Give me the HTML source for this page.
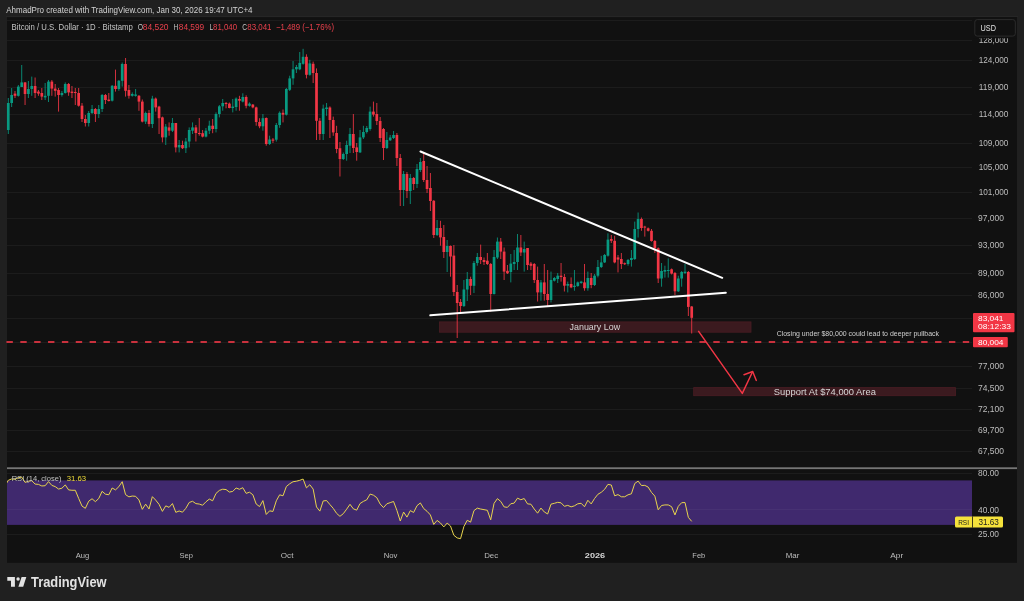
<!DOCTYPE html>
<html><head><meta charset="utf-8"><style>
html,body{margin:0;padding:0;background:#202020;width:1024px;height:601px;overflow:hidden}
svg{position:absolute;left:0;top:0;font-family:"Liberation Sans", sans-serif;will-change:transform}
</style></head><body>
<svg width="1024" height="601" viewBox="0 0 1024 601">
<rect x="6" y="15.8" width="1012" height="1.4" fill="#262626"/>
<rect x="7" y="17.2" width="1010" height="545.6" fill="#111111"/>
<line x1="7" x2="972" y1="20.5" y2="20.5" stroke="#1c1c1c" stroke-width="1"/>
<line x1="7" x2="972" y1="40.5" y2="40.5" stroke="#1c1c1c" stroke-width="1"/>
<line x1="7" x2="972" y1="60.5" y2="60.5" stroke="#1c1c1c" stroke-width="1"/>
<line x1="7" x2="972" y1="87.5" y2="87.5" stroke="#1c1c1c" stroke-width="1"/>
<line x1="7" x2="972" y1="114.5" y2="114.5" stroke="#1c1c1c" stroke-width="1"/>
<line x1="7" x2="972" y1="143.5" y2="143.5" stroke="#1c1c1c" stroke-width="1"/>
<line x1="7" x2="972" y1="167.5" y2="167.5" stroke="#1c1c1c" stroke-width="1"/>
<line x1="7" x2="972" y1="192.5" y2="192.5" stroke="#1c1c1c" stroke-width="1"/>
<line x1="7" x2="972" y1="218.5" y2="218.5" stroke="#1c1c1c" stroke-width="1"/>
<line x1="7" x2="972" y1="245.5" y2="245.5" stroke="#1c1c1c" stroke-width="1"/>
<line x1="7" x2="972" y1="273.5" y2="273.5" stroke="#1c1c1c" stroke-width="1"/>
<line x1="7" x2="972" y1="295.5" y2="295.5" stroke="#1c1c1c" stroke-width="1"/>
<line x1="7" x2="972" y1="318.5" y2="318.5" stroke="#1c1c1c" stroke-width="1"/>
<line x1="7" x2="972" y1="342.5" y2="342.5" stroke="#1c1c1c" stroke-width="1"/>
<line x1="7" x2="972" y1="366.5" y2="366.5" stroke="#1c1c1c" stroke-width="1"/>
<line x1="7" x2="972" y1="388.5" y2="388.5" stroke="#1c1c1c" stroke-width="1"/>
<line x1="7" x2="972" y1="409.5" y2="409.5" stroke="#1c1c1c" stroke-width="1"/>
<line x1="7" x2="972" y1="430.5" y2="430.5" stroke="#1c1c1c" stroke-width="1"/>
<line x1="7" x2="972" y1="451.5" y2="451.5" stroke="#1c1c1c" stroke-width="1"/>
<line x1="7" x2="972" y1="473.5" y2="473.5" stroke="#1c1c1c" stroke-width="1"/>
<line x1="7" x2="972" y1="510.5" y2="510.5" stroke="#1c1c1c" stroke-width="1"/>
<line x1="7" x2="972" y1="534.5" y2="534.5" stroke="#1c1c1c" stroke-width="1"/>
<rect x="7" y="480.4" width="965" height="44.5" fill="#40296e"/>
<line x1="7" x2="972" y1="509.5" y2="509.5" stroke="#ffffff" stroke-opacity="0.04" stroke-width="1"/>
<rect x="439.4" y="321.9" width="311.6" height="10.3" fill="#3b1a1f" stroke="#4a1d24" stroke-width="0.8"/>
<rect x="693.7" y="387.6" width="261.8" height="8.1" fill="#3b1a1f" stroke="#4a1d24" stroke-width="0.8"/>
<rect x="7.80" y="98.0" width="1" height="36.0" fill="#089981" opacity="0.85"/>
<rect x="6.95" y="103.0" width="2.7" height="27.0" fill="#089981"/>
<rect x="11.15" y="88.0" width="1" height="19.0" fill="#089981" opacity="0.85"/>
<rect x="10.30" y="95.0" width="2.7" height="8.0" fill="#089981"/>
<rect x="14.50" y="91.0" width="1" height="7.0" fill="#f23645" opacity="0.85"/>
<rect x="13.65" y="93.6" width="2.7" height="2.2" fill="#f23645"/>
<rect x="17.85" y="85.0" width="1" height="11.6" fill="#089981" opacity="0.85"/>
<rect x="17.00" y="86.6" width="2.7" height="9.2" fill="#089981"/>
<rect x="21.20" y="65.0" width="1" height="22.0" fill="#089981" opacity="0.85"/>
<rect x="20.35" y="82.4" width="2.7" height="4.6" fill="#089981"/>
<rect x="24.55" y="82.0" width="1" height="23.0" fill="#f23645" opacity="0.85"/>
<rect x="23.70" y="82.4" width="2.7" height="11.6" fill="#f23645"/>
<rect x="27.90" y="81.0" width="1" height="17.0" fill="#089981" opacity="0.85"/>
<rect x="27.05" y="89.0" width="2.7" height="5.0" fill="#089981"/>
<rect x="31.25" y="76.6" width="1" height="19.2" fill="#089981" opacity="0.85"/>
<rect x="30.40" y="86.0" width="2.7" height="3.0" fill="#089981"/>
<rect x="34.60" y="77.5" width="1" height="20.5" fill="#f23645" opacity="0.85"/>
<rect x="33.75" y="86.0" width="2.7" height="7.0" fill="#f23645"/>
<rect x="37.95" y="90.0" width="1" height="5.8" fill="#f23645" opacity="0.85"/>
<rect x="37.10" y="91.6" width="2.7" height="2.0" fill="#f23645"/>
<rect x="41.30" y="88.0" width="1" height="12.0" fill="#f23645" opacity="0.85"/>
<rect x="40.45" y="93.0" width="2.7" height="3.6" fill="#f23645"/>
<rect x="44.65" y="83.0" width="1" height="17.0" fill="#089981" opacity="0.85"/>
<rect x="43.80" y="95.8" width="2.7" height="1.6" fill="#089981"/>
<rect x="48.00" y="80.0" width="1" height="22.0" fill="#089981" opacity="0.85"/>
<rect x="47.15" y="81.6" width="2.7" height="14.2" fill="#089981"/>
<rect x="51.35" y="80.0" width="1" height="15.8" fill="#f23645" opacity="0.85"/>
<rect x="50.50" y="81.6" width="2.7" height="7.0" fill="#f23645"/>
<rect x="54.70" y="84.0" width="1" height="12.6" fill="#f23645" opacity="0.85"/>
<rect x="53.85" y="88.6" width="2.7" height="2.2" fill="#f23645"/>
<rect x="58.05" y="88.0" width="1" height="23.6" fill="#f23645" opacity="0.85"/>
<rect x="57.20" y="90.0" width="2.7" height="5.0" fill="#f23645"/>
<rect x="61.40" y="91.0" width="1" height="5.6" fill="#089981" opacity="0.85"/>
<rect x="60.55" y="93.0" width="2.7" height="2.0" fill="#089981"/>
<rect x="64.75" y="82.4" width="1" height="11.2" fill="#089981" opacity="0.85"/>
<rect x="63.90" y="84.0" width="2.7" height="9.0" fill="#089981"/>
<rect x="68.10" y="83.0" width="1" height="12.8" fill="#f23645" opacity="0.85"/>
<rect x="67.25" y="84.0" width="2.7" height="8.4" fill="#f23645"/>
<rect x="71.45" y="86.0" width="1" height="12.0" fill="#f23645" opacity="0.85"/>
<rect x="70.60" y="91.6" width="2.7" height="1.4" fill="#f23645"/>
<rect x="74.80" y="88.0" width="1" height="17.0" fill="#f23645" opacity="0.85"/>
<rect x="73.95" y="92.0" width="2.7" height="1.0" fill="#f23645"/>
<rect x="78.15" y="88.0" width="1" height="18.6" fill="#f23645" opacity="0.85"/>
<rect x="77.30" y="93.0" width="2.7" height="12.7" fill="#f23645"/>
<rect x="81.50" y="103.0" width="1" height="19.0" fill="#f23645" opacity="0.85"/>
<rect x="80.65" y="105.7" width="2.7" height="13.3" fill="#f23645"/>
<rect x="84.85" y="115.0" width="1" height="11.5" fill="#f23645" opacity="0.85"/>
<rect x="84.00" y="119.0" width="2.7" height="4.0" fill="#f23645"/>
<rect x="88.20" y="111.0" width="1" height="15.5" fill="#089981" opacity="0.85"/>
<rect x="87.35" y="113.0" width="2.7" height="10.0" fill="#089981"/>
<rect x="91.55" y="105.0" width="1" height="9.0" fill="#089981" opacity="0.85"/>
<rect x="90.70" y="109.0" width="2.7" height="4.0" fill="#089981"/>
<rect x="94.90" y="108.0" width="1" height="14.0" fill="#f23645" opacity="0.85"/>
<rect x="94.05" y="109.0" width="2.7" height="5.0" fill="#f23645"/>
<rect x="98.25" y="105.0" width="1" height="13.0" fill="#089981" opacity="0.85"/>
<rect x="97.40" y="109.0" width="2.7" height="5.0" fill="#089981"/>
<rect x="101.60" y="94.0" width="1" height="18.0" fill="#089981" opacity="0.85"/>
<rect x="100.75" y="95.0" width="2.7" height="14.0" fill="#089981"/>
<rect x="104.95" y="94.0" width="1" height="10.0" fill="#f23645" opacity="0.85"/>
<rect x="104.10" y="95.0" width="2.7" height="5.0" fill="#f23645"/>
<rect x="108.30" y="93.0" width="1" height="8.5" fill="#f23645" opacity="0.85"/>
<rect x="107.45" y="99.6" width="2.7" height="1.4" fill="#f23645"/>
<rect x="111.65" y="85.0" width="1" height="16.5" fill="#089981" opacity="0.85"/>
<rect x="110.80" y="85.8" width="2.7" height="14.9" fill="#089981"/>
<rect x="115.00" y="69.6" width="1" height="22.0" fill="#f23645" opacity="0.85"/>
<rect x="114.15" y="85.8" width="2.7" height="3.2" fill="#f23645"/>
<rect x="118.35" y="80.0" width="1" height="10.8" fill="#089981" opacity="0.85"/>
<rect x="117.50" y="80.8" width="2.7" height="8.2" fill="#089981"/>
<rect x="121.70" y="62.5" width="1" height="24.1" fill="#089981" opacity="0.85"/>
<rect x="120.85" y="64.0" width="2.7" height="16.8" fill="#089981"/>
<rect x="125.05" y="58.0" width="1" height="38.6" fill="#f23645" opacity="0.85"/>
<rect x="124.20" y="64.0" width="2.7" height="26.8" fill="#f23645"/>
<rect x="128.40" y="85.0" width="1" height="13.6" fill="#f23645" opacity="0.85"/>
<rect x="127.55" y="90.0" width="2.7" height="5.8" fill="#f23645"/>
<rect x="131.75" y="92.4" width="1" height="4.2" fill="#089981" opacity="0.85"/>
<rect x="130.90" y="94.0" width="2.7" height="1.8" fill="#089981"/>
<rect x="135.10" y="89.0" width="1" height="7.6" fill="#089981" opacity="0.85"/>
<rect x="134.25" y="94.5" width="2.7" height="1.3" fill="#089981"/>
<rect x="138.45" y="95.0" width="1" height="15.8" fill="#f23645" opacity="0.85"/>
<rect x="137.60" y="95.8" width="2.7" height="5.8" fill="#f23645"/>
<rect x="141.80" y="99.5" width="1" height="22.9" fill="#f23645" opacity="0.85"/>
<rect x="140.95" y="101.6" width="2.7" height="20.0" fill="#f23645"/>
<rect x="145.15" y="111.6" width="1" height="12.4" fill="#089981" opacity="0.85"/>
<rect x="144.30" y="113.0" width="2.7" height="8.6" fill="#089981"/>
<rect x="148.50" y="110.0" width="1" height="16.6" fill="#f23645" opacity="0.85"/>
<rect x="147.65" y="113.0" width="2.7" height="11.0" fill="#f23645"/>
<rect x="151.85" y="95.8" width="1" height="32.2" fill="#089981" opacity="0.85"/>
<rect x="151.00" y="98.6" width="2.7" height="25.4" fill="#089981"/>
<rect x="155.20" y="97.5" width="1" height="14.1" fill="#f23645" opacity="0.85"/>
<rect x="154.35" y="98.6" width="2.7" height="8.8" fill="#f23645"/>
<rect x="158.55" y="105.8" width="1" height="28.2" fill="#f23645" opacity="0.85"/>
<rect x="157.70" y="106.6" width="2.7" height="11.6" fill="#f23645"/>
<rect x="161.90" y="116.6" width="1" height="25.8" fill="#f23645" opacity="0.85"/>
<rect x="161.05" y="117.4" width="2.7" height="20.0" fill="#f23645"/>
<rect x="165.25" y="124.0" width="1" height="21.0" fill="#089981" opacity="0.85"/>
<rect x="164.40" y="126.6" width="2.7" height="10.8" fill="#089981"/>
<rect x="168.60" y="122.4" width="1" height="13.3" fill="#f23645" opacity="0.85"/>
<rect x="167.75" y="127.4" width="2.7" height="3.3" fill="#f23645"/>
<rect x="171.95" y="118.0" width="1" height="14.0" fill="#089981" opacity="0.85"/>
<rect x="171.10" y="123.0" width="2.7" height="7.7" fill="#089981"/>
<rect x="175.30" y="123.0" width="1" height="29.4" fill="#f23645" opacity="0.85"/>
<rect x="174.45" y="123.0" width="2.7" height="24.4" fill="#f23645"/>
<rect x="178.65" y="140.0" width="1" height="12.4" fill="#089981" opacity="0.85"/>
<rect x="177.80" y="145.0" width="2.7" height="2.4" fill="#089981"/>
<rect x="182.00" y="140.7" width="1" height="8.3" fill="#f23645" opacity="0.85"/>
<rect x="181.15" y="145.0" width="2.7" height="3.2" fill="#f23645"/>
<rect x="185.35" y="138.0" width="1" height="15.0" fill="#089981" opacity="0.85"/>
<rect x="184.50" y="141.5" width="2.7" height="6.7" fill="#089981"/>
<rect x="188.70" y="127.4" width="1" height="20.0" fill="#089981" opacity="0.85"/>
<rect x="187.85" y="130.0" width="2.7" height="11.5" fill="#089981"/>
<rect x="192.05" y="122.4" width="1" height="11.6" fill="#089981" opacity="0.85"/>
<rect x="191.20" y="127.4" width="2.7" height="3.3" fill="#089981"/>
<rect x="195.40" y="125.0" width="1" height="16.5" fill="#f23645" opacity="0.85"/>
<rect x="194.55" y="127.4" width="2.7" height="5.6" fill="#f23645"/>
<rect x="198.75" y="118.0" width="1" height="17.7" fill="#f23645" opacity="0.85"/>
<rect x="197.90" y="133.0" width="2.7" height="1.0" fill="#f23645"/>
<rect x="202.10" y="130.0" width="1" height="7.4" fill="#f23645" opacity="0.85"/>
<rect x="201.25" y="133.2" width="2.7" height="3.4" fill="#f23645"/>
<rect x="205.45" y="128.0" width="1" height="9.4" fill="#089981" opacity="0.85"/>
<rect x="204.60" y="130.7" width="2.7" height="5.9" fill="#089981"/>
<rect x="208.80" y="120.7" width="1" height="13.3" fill="#089981" opacity="0.85"/>
<rect x="207.95" y="125.7" width="2.7" height="5.0" fill="#089981"/>
<rect x="212.15" y="119.0" width="1" height="14.2" fill="#f23645" opacity="0.85"/>
<rect x="211.30" y="125.7" width="2.7" height="3.3" fill="#f23645"/>
<rect x="215.50" y="112.4" width="1" height="20.0" fill="#089981" opacity="0.85"/>
<rect x="214.65" y="114.0" width="2.7" height="15.0" fill="#089981"/>
<rect x="218.85" y="105.0" width="1" height="12.4" fill="#089981" opacity="0.85"/>
<rect x="218.00" y="106.3" width="2.7" height="7.7" fill="#089981"/>
<rect x="222.20" y="99.0" width="1" height="11.7" fill="#089981" opacity="0.85"/>
<rect x="221.35" y="103.0" width="2.7" height="3.3" fill="#089981"/>
<rect x="225.55" y="102.0" width="1" height="6.3" fill="#f23645" opacity="0.85"/>
<rect x="224.70" y="103.0" width="2.7" height="1.0" fill="#f23645"/>
<rect x="228.90" y="102.5" width="1" height="5.8" fill="#f23645" opacity="0.85"/>
<rect x="228.05" y="103.6" width="2.7" height="4.4" fill="#f23645"/>
<rect x="232.25" y="99.0" width="1" height="13.4" fill="#089981" opacity="0.85"/>
<rect x="231.40" y="106.6" width="2.7" height="1.4" fill="#089981"/>
<rect x="235.60" y="97.4" width="1" height="13.3" fill="#089981" opacity="0.85"/>
<rect x="234.75" y="98.6" width="2.7" height="8.4" fill="#089981"/>
<rect x="238.95" y="95.8" width="1" height="14.9" fill="#f23645" opacity="0.85"/>
<rect x="238.10" y="99.0" width="2.7" height="1.7" fill="#f23645"/>
<rect x="242.30" y="93.3" width="1" height="9.1" fill="#089981" opacity="0.85"/>
<rect x="241.45" y="97.0" width="2.7" height="4.6" fill="#089981"/>
<rect x="245.65" y="95.3" width="1" height="13.0" fill="#f23645" opacity="0.85"/>
<rect x="244.80" y="97.0" width="2.7" height="8.8" fill="#f23645"/>
<rect x="249.00" y="102.4" width="1" height="4.2" fill="#089981" opacity="0.85"/>
<rect x="248.15" y="103.6" width="2.7" height="2.2" fill="#089981"/>
<rect x="252.35" y="104.0" width="1" height="4.3" fill="#f23645" opacity="0.85"/>
<rect x="251.50" y="104.6" width="2.7" height="2.8" fill="#f23645"/>
<rect x="255.70" y="106.6" width="1" height="19.1" fill="#f23645" opacity="0.85"/>
<rect x="254.85" y="107.4" width="2.7" height="14.6" fill="#f23645"/>
<rect x="259.05" y="118.2" width="1" height="10.0" fill="#f23645" opacity="0.85"/>
<rect x="258.20" y="122.0" width="2.7" height="4.3" fill="#f23645"/>
<rect x="262.40" y="114.0" width="1" height="16.7" fill="#089981" opacity="0.85"/>
<rect x="261.55" y="118.2" width="2.7" height="8.1" fill="#089981"/>
<rect x="265.75" y="117.4" width="1" height="28.3" fill="#f23645" opacity="0.85"/>
<rect x="264.90" y="118.0" width="2.7" height="26.0" fill="#f23645"/>
<rect x="269.10" y="135.7" width="1" height="9.3" fill="#089981" opacity="0.85"/>
<rect x="268.25" y="139.5" width="2.7" height="4.5" fill="#089981"/>
<rect x="272.45" y="138.0" width="1" height="5.0" fill="#f23645" opacity="0.85"/>
<rect x="271.60" y="139.5" width="2.7" height="1.2" fill="#f23645"/>
<rect x="275.80" y="123.0" width="1" height="18.6" fill="#089981" opacity="0.85"/>
<rect x="274.95" y="125.0" width="2.7" height="14.7" fill="#089981"/>
<rect x="279.15" y="111.4" width="1" height="16.4" fill="#089981" opacity="0.85"/>
<rect x="278.30" y="112.8" width="2.7" height="12.2" fill="#089981"/>
<rect x="282.50" y="109.5" width="1" height="12.9" fill="#f23645" opacity="0.85"/>
<rect x="281.65" y="112.8" width="2.7" height="1.9" fill="#f23645"/>
<rect x="285.85" y="88.0" width="1" height="27.5" fill="#089981" opacity="0.85"/>
<rect x="285.00" y="89.0" width="2.7" height="25.7" fill="#089981"/>
<rect x="289.20" y="75.7" width="1" height="15.3" fill="#089981" opacity="0.85"/>
<rect x="288.35" y="78.4" width="2.7" height="11.4" fill="#089981"/>
<rect x="292.55" y="61.0" width="1" height="23.8" fill="#089981" opacity="0.85"/>
<rect x="291.70" y="69.3" width="2.7" height="9.1" fill="#089981"/>
<rect x="295.90" y="65.0" width="1" height="8.0" fill="#089981" opacity="0.85"/>
<rect x="295.05" y="67.0" width="2.7" height="2.3" fill="#089981"/>
<rect x="299.25" y="52.0" width="1" height="18.2" fill="#089981" opacity="0.85"/>
<rect x="298.40" y="62.9" width="2.7" height="6.4" fill="#089981"/>
<rect x="302.60" y="48.8" width="1" height="15.9" fill="#089981" opacity="0.85"/>
<rect x="301.75" y="56.8" width="2.7" height="7.0" fill="#089981"/>
<rect x="305.95" y="54.3" width="1" height="24.1" fill="#f23645" opacity="0.85"/>
<rect x="305.10" y="56.8" width="2.7" height="18.0" fill="#f23645"/>
<rect x="309.30" y="59.8" width="1" height="15.9" fill="#089981" opacity="0.85"/>
<rect x="308.45" y="63.4" width="2.7" height="11.4" fill="#089981"/>
<rect x="312.65" y="61.6" width="1" height="21.4" fill="#f23645" opacity="0.85"/>
<rect x="311.80" y="63.8" width="2.7" height="9.2" fill="#f23645"/>
<rect x="316.00" y="68.4" width="1" height="71.6" fill="#f23645" opacity="0.85"/>
<rect x="315.15" y="73.0" width="2.7" height="47.8" fill="#f23645"/>
<rect x="319.35" y="118.0" width="1" height="22.0" fill="#f23645" opacity="0.85"/>
<rect x="318.50" y="120.8" width="2.7" height="13.2" fill="#f23645"/>
<rect x="322.70" y="104.6" width="1" height="35.4" fill="#089981" opacity="0.85"/>
<rect x="321.85" y="108.6" width="2.7" height="25.4" fill="#089981"/>
<rect x="326.05" y="103.0" width="1" height="12.8" fill="#089981" opacity="0.85"/>
<rect x="325.20" y="107.5" width="2.7" height="1.5" fill="#089981"/>
<rect x="329.40" y="106.3" width="1" height="31.7" fill="#f23645" opacity="0.85"/>
<rect x="328.55" y="107.5" width="2.7" height="12.5" fill="#f23645"/>
<rect x="332.75" y="116.6" width="1" height="19.2" fill="#f23645" opacity="0.85"/>
<rect x="331.90" y="120.0" width="2.7" height="12.4" fill="#f23645"/>
<rect x="336.10" y="125.8" width="1" height="27.4" fill="#f23645" opacity="0.85"/>
<rect x="335.25" y="133.0" width="2.7" height="16.0" fill="#f23645"/>
<rect x="339.45" y="142.0" width="1" height="34.5" fill="#f23645" opacity="0.85"/>
<rect x="338.60" y="148.2" width="2.7" height="10.8" fill="#f23645"/>
<rect x="342.80" y="152.5" width="1" height="7.5" fill="#089981" opacity="0.85"/>
<rect x="341.95" y="154.0" width="2.7" height="5.0" fill="#089981"/>
<rect x="346.15" y="140.7" width="1" height="20.0" fill="#089981" opacity="0.85"/>
<rect x="345.30" y="145.0" width="2.7" height="9.0" fill="#089981"/>
<rect x="349.50" y="128.0" width="1" height="25.0" fill="#089981" opacity="0.85"/>
<rect x="348.65" y="134.0" width="2.7" height="11.7" fill="#089981"/>
<rect x="352.85" y="114.0" width="1" height="39.0" fill="#f23645" opacity="0.85"/>
<rect x="352.00" y="134.0" width="2.7" height="14.0" fill="#f23645"/>
<rect x="356.20" y="143.0" width="1" height="17.7" fill="#f23645" opacity="0.85"/>
<rect x="355.35" y="147.4" width="2.7" height="4.6" fill="#f23645"/>
<rect x="359.55" y="130.0" width="1" height="23.0" fill="#089981" opacity="0.85"/>
<rect x="358.70" y="137.4" width="2.7" height="15.0" fill="#089981"/>
<rect x="362.90" y="125.8" width="1" height="13.2" fill="#089981" opacity="0.85"/>
<rect x="362.05" y="132.0" width="2.7" height="5.4" fill="#089981"/>
<rect x="366.25" y="126.0" width="1" height="7.5" fill="#089981" opacity="0.85"/>
<rect x="365.40" y="128.0" width="2.7" height="4.0" fill="#089981"/>
<rect x="369.60" y="106.6" width="1" height="24.1" fill="#089981" opacity="0.85"/>
<rect x="368.75" y="111.6" width="2.7" height="17.4" fill="#089981"/>
<rect x="372.95" y="101.6" width="1" height="15.0" fill="#f23645" opacity="0.85"/>
<rect x="372.10" y="111.6" width="2.7" height="3.0" fill="#f23645"/>
<rect x="376.30" y="103.0" width="1" height="22.0" fill="#f23645" opacity="0.85"/>
<rect x="375.45" y="114.0" width="2.7" height="7.0" fill="#f23645"/>
<rect x="379.65" y="117.0" width="1" height="25.0" fill="#f23645" opacity="0.85"/>
<rect x="378.80" y="121.0" width="2.7" height="17.0" fill="#f23645"/>
<rect x="383.00" y="128.0" width="1" height="32.0" fill="#f23645" opacity="0.85"/>
<rect x="382.15" y="129.0" width="2.7" height="19.0" fill="#f23645"/>
<rect x="386.35" y="132.0" width="1" height="17.0" fill="#089981" opacity="0.85"/>
<rect x="385.50" y="140.0" width="2.7" height="8.0" fill="#089981"/>
<rect x="389.70" y="135.0" width="1" height="6.0" fill="#089981" opacity="0.85"/>
<rect x="388.85" y="137.5" width="2.7" height="2.8" fill="#089981"/>
<rect x="393.05" y="131.0" width="1" height="8.0" fill="#089981" opacity="0.85"/>
<rect x="392.20" y="135.0" width="2.7" height="3.0" fill="#089981"/>
<rect x="396.40" y="133.0" width="1" height="33.0" fill="#f23645" opacity="0.85"/>
<rect x="395.55" y="135.0" width="2.7" height="23.0" fill="#f23645"/>
<rect x="399.75" y="154.0" width="1" height="52.0" fill="#f23645" opacity="0.85"/>
<rect x="398.90" y="158.0" width="2.7" height="32.0" fill="#f23645"/>
<rect x="403.10" y="171.0" width="1" height="35.0" fill="#089981" opacity="0.85"/>
<rect x="402.25" y="174.0" width="2.7" height="16.0" fill="#089981"/>
<rect x="406.45" y="172.0" width="1" height="26.0" fill="#f23645" opacity="0.85"/>
<rect x="405.60" y="174.0" width="2.7" height="17.0" fill="#f23645"/>
<rect x="409.80" y="174.0" width="1" height="30.0" fill="#089981" opacity="0.85"/>
<rect x="408.95" y="178.0" width="2.7" height="13.0" fill="#089981"/>
<rect x="413.15" y="177.0" width="1" height="13.0" fill="#f23645" opacity="0.85"/>
<rect x="412.30" y="178.0" width="2.7" height="6.0" fill="#f23645"/>
<rect x="416.50" y="164.0" width="1" height="24.0" fill="#089981" opacity="0.85"/>
<rect x="415.65" y="169.0" width="2.7" height="15.0" fill="#089981"/>
<rect x="419.85" y="158.0" width="1" height="14.0" fill="#089981" opacity="0.85"/>
<rect x="419.00" y="162.0" width="2.7" height="8.0" fill="#089981"/>
<rect x="423.20" y="153.0" width="1" height="29.0" fill="#f23645" opacity="0.85"/>
<rect x="422.35" y="161.0" width="2.7" height="19.0" fill="#f23645"/>
<rect x="426.55" y="166.0" width="1" height="27.0" fill="#f23645" opacity="0.85"/>
<rect x="425.70" y="180.0" width="2.7" height="9.0" fill="#f23645"/>
<rect x="429.90" y="173.0" width="1" height="38.0" fill="#f23645" opacity="0.85"/>
<rect x="429.05" y="188.0" width="2.7" height="13.0" fill="#f23645"/>
<rect x="433.25" y="200.0" width="1" height="38.0" fill="#f23645" opacity="0.85"/>
<rect x="432.40" y="200.8" width="2.7" height="34.2" fill="#f23645"/>
<rect x="436.60" y="220.0" width="1" height="16.0" fill="#089981" opacity="0.85"/>
<rect x="435.75" y="228.0" width="2.7" height="7.0" fill="#089981"/>
<rect x="439.95" y="220.8" width="1" height="24.9" fill="#f23645" opacity="0.85"/>
<rect x="439.10" y="228.0" width="2.7" height="9.4" fill="#f23645"/>
<rect x="443.30" y="225.0" width="1" height="33.0" fill="#f23645" opacity="0.85"/>
<rect x="442.45" y="237.0" width="2.7" height="15.0" fill="#f23645"/>
<rect x="446.65" y="240.0" width="1" height="32.0" fill="#089981" opacity="0.85"/>
<rect x="445.80" y="246.0" width="2.7" height="6.0" fill="#089981"/>
<rect x="450.00" y="245.5" width="1" height="31.2" fill="#f23645" opacity="0.85"/>
<rect x="449.15" y="246.0" width="2.7" height="10.5" fill="#f23645"/>
<rect x="453.35" y="245.0" width="1" height="51.0" fill="#f23645" opacity="0.85"/>
<rect x="452.50" y="255.6" width="2.7" height="36.4" fill="#f23645"/>
<rect x="456.70" y="285.0" width="1" height="53.0" fill="#f23645" opacity="0.85"/>
<rect x="455.85" y="292.0" width="2.7" height="11.0" fill="#f23645"/>
<rect x="460.05" y="299.0" width="1" height="15.0" fill="#f23645" opacity="0.85"/>
<rect x="459.20" y="302.0" width="2.7" height="4.0" fill="#f23645"/>
<rect x="463.40" y="280.0" width="1" height="27.0" fill="#089981" opacity="0.85"/>
<rect x="462.55" y="289.5" width="2.7" height="16.5" fill="#089981"/>
<rect x="466.75" y="272.0" width="1" height="29.0" fill="#089981" opacity="0.85"/>
<rect x="465.90" y="279.0" width="2.7" height="10.5" fill="#089981"/>
<rect x="470.10" y="276.7" width="1" height="18.3" fill="#f23645" opacity="0.85"/>
<rect x="469.25" y="279.0" width="2.7" height="6.8" fill="#f23645"/>
<rect x="473.45" y="261.0" width="1" height="32.0" fill="#089981" opacity="0.85"/>
<rect x="472.60" y="263.0" width="2.7" height="22.8" fill="#089981"/>
<rect x="476.80" y="253.0" width="1" height="12.7" fill="#089981" opacity="0.85"/>
<rect x="475.95" y="257.0" width="2.7" height="6.0" fill="#089981"/>
<rect x="480.15" y="244.6" width="1" height="19.4" fill="#f23645" opacity="0.85"/>
<rect x="479.30" y="257.0" width="2.7" height="3.0" fill="#f23645"/>
<rect x="483.50" y="257.5" width="1" height="7.5" fill="#f23645" opacity="0.85"/>
<rect x="482.65" y="260.0" width="2.7" height="2.0" fill="#f23645"/>
<rect x="486.85" y="253.0" width="1" height="12.0" fill="#f23645" opacity="0.85"/>
<rect x="486.00" y="260.7" width="2.7" height="3.3" fill="#f23645"/>
<rect x="490.20" y="263.0" width="1" height="48.5" fill="#f23645" opacity="0.85"/>
<rect x="489.35" y="264.0" width="2.7" height="30.0" fill="#f23645"/>
<rect x="493.55" y="250.0" width="1" height="44.5" fill="#089981" opacity="0.85"/>
<rect x="492.70" y="257.0" width="2.7" height="37.0" fill="#089981"/>
<rect x="496.90" y="237.5" width="1" height="21.5" fill="#089981" opacity="0.85"/>
<rect x="496.05" y="241.6" width="2.7" height="15.9" fill="#089981"/>
<rect x="500.25" y="238.0" width="1" height="21.0" fill="#f23645" opacity="0.85"/>
<rect x="499.40" y="241.6" width="2.7" height="10.0" fill="#f23645"/>
<rect x="503.60" y="247.5" width="1" height="32.5" fill="#f23645" opacity="0.85"/>
<rect x="502.75" y="251.6" width="2.7" height="20.0" fill="#f23645"/>
<rect x="506.95" y="265.0" width="1" height="9.0" fill="#f23645" opacity="0.85"/>
<rect x="506.10" y="270.8" width="2.7" height="2.5" fill="#f23645"/>
<rect x="510.30" y="254.0" width="1" height="28.4" fill="#089981" opacity="0.85"/>
<rect x="509.45" y="263.6" width="2.7" height="8.4" fill="#089981"/>
<rect x="513.65" y="250.0" width="1" height="20.0" fill="#089981" opacity="0.85"/>
<rect x="512.80" y="262.0" width="2.7" height="2.0" fill="#089981"/>
<rect x="517.00" y="234.0" width="1" height="36.0" fill="#089981" opacity="0.85"/>
<rect x="516.15" y="247.5" width="2.7" height="14.5" fill="#089981"/>
<rect x="520.35" y="235.0" width="1" height="21.0" fill="#f23645" opacity="0.85"/>
<rect x="519.50" y="247.5" width="2.7" height="5.0" fill="#f23645"/>
<rect x="523.70" y="241.6" width="1" height="30.0" fill="#089981" opacity="0.85"/>
<rect x="522.85" y="249.0" width="2.7" height="3.5" fill="#089981"/>
<rect x="527.05" y="248.0" width="1" height="22.0" fill="#f23645" opacity="0.85"/>
<rect x="526.20" y="248.0" width="2.7" height="17.0" fill="#f23645"/>
<rect x="530.40" y="262.0" width="1" height="8.0" fill="#f23645" opacity="0.85"/>
<rect x="529.55" y="263.6" width="2.7" height="2.2" fill="#f23645"/>
<rect x="533.75" y="263.0" width="1" height="20.0" fill="#f23645" opacity="0.85"/>
<rect x="532.90" y="264.0" width="2.7" height="16.0" fill="#f23645"/>
<rect x="537.10" y="266.6" width="1" height="34.9" fill="#f23645" opacity="0.85"/>
<rect x="536.25" y="280.0" width="2.7" height="12.4" fill="#f23645"/>
<rect x="540.45" y="280.0" width="1" height="20.7" fill="#089981" opacity="0.85"/>
<rect x="539.60" y="282.4" width="2.7" height="10.0" fill="#089981"/>
<rect x="543.80" y="264.0" width="1" height="36.7" fill="#f23645" opacity="0.85"/>
<rect x="542.95" y="282.4" width="2.7" height="11.6" fill="#f23645"/>
<rect x="547.15" y="270.0" width="1" height="36.5" fill="#f23645" opacity="0.85"/>
<rect x="546.30" y="294.0" width="2.7" height="6.0" fill="#f23645"/>
<rect x="550.50" y="271.6" width="1" height="30.8" fill="#089981" opacity="0.85"/>
<rect x="549.65" y="280.0" width="2.7" height="20.0" fill="#089981"/>
<rect x="553.85" y="277.0" width="1" height="4.5" fill="#089981" opacity="0.85"/>
<rect x="553.00" y="278.0" width="2.7" height="2.7" fill="#089981"/>
<rect x="557.20" y="273.0" width="1" height="10.0" fill="#089981" opacity="0.85"/>
<rect x="556.35" y="275.7" width="2.7" height="3.3" fill="#089981"/>
<rect x="560.55" y="263.0" width="1" height="18.6" fill="#f23645" opacity="0.85"/>
<rect x="559.70" y="275.7" width="2.7" height="1.3" fill="#f23645"/>
<rect x="563.90" y="274.0" width="1" height="17.5" fill="#f23645" opacity="0.85"/>
<rect x="563.05" y="277.0" width="2.7" height="8.7" fill="#f23645"/>
<rect x="567.25" y="281.6" width="1" height="10.8" fill="#089981" opacity="0.85"/>
<rect x="566.40" y="284.0" width="2.7" height="1.7" fill="#089981"/>
<rect x="570.60" y="277.4" width="1" height="10.8" fill="#f23645" opacity="0.85"/>
<rect x="569.75" y="284.0" width="2.7" height="3.4" fill="#f23645"/>
<rect x="573.95" y="270.0" width="1" height="20.7" fill="#089981" opacity="0.85"/>
<rect x="573.10" y="285.7" width="2.7" height="1.3" fill="#089981"/>
<rect x="577.30" y="281.5" width="1" height="5.3" fill="#089981" opacity="0.85"/>
<rect x="576.45" y="282.4" width="2.7" height="3.6" fill="#089981"/>
<rect x="580.65" y="280.8" width="1" height="3.0" fill="#089981" opacity="0.85"/>
<rect x="579.80" y="281.6" width="2.7" height="1.4" fill="#089981"/>
<rect x="584.00" y="264.0" width="1" height="26.7" fill="#f23645" opacity="0.85"/>
<rect x="583.15" y="282.4" width="2.7" height="5.8" fill="#f23645"/>
<rect x="587.35" y="271.6" width="1" height="19.1" fill="#089981" opacity="0.85"/>
<rect x="586.50" y="278.0" width="2.7" height="10.2" fill="#089981"/>
<rect x="590.70" y="273.0" width="1" height="15.2" fill="#f23645" opacity="0.85"/>
<rect x="589.85" y="278.0" width="2.7" height="7.0" fill="#f23645"/>
<rect x="594.05" y="274.0" width="1" height="12.0" fill="#089981" opacity="0.85"/>
<rect x="593.20" y="275.7" width="2.7" height="9.3" fill="#089981"/>
<rect x="597.40" y="260.0" width="1" height="17.4" fill="#089981" opacity="0.85"/>
<rect x="596.55" y="267.0" width="2.7" height="8.7" fill="#089981"/>
<rect x="600.75" y="255.8" width="1" height="12.2" fill="#089981" opacity="0.85"/>
<rect x="599.90" y="262.4" width="2.7" height="4.6" fill="#089981"/>
<rect x="604.10" y="254.0" width="1" height="9.0" fill="#089981" opacity="0.85"/>
<rect x="603.25" y="255.0" width="2.7" height="7.4" fill="#089981"/>
<rect x="607.45" y="233.3" width="1" height="23.3" fill="#089981" opacity="0.85"/>
<rect x="606.60" y="239.6" width="2.7" height="16.1" fill="#089981"/>
<rect x="610.80" y="235.0" width="1" height="8.0" fill="#f23645" opacity="0.85"/>
<rect x="609.95" y="239.0" width="2.7" height="1.8" fill="#f23645"/>
<rect x="614.15" y="235.8" width="1" height="27.5" fill="#f23645" opacity="0.85"/>
<rect x="613.30" y="240.8" width="2.7" height="21.6" fill="#f23645"/>
<rect x="617.50" y="255.0" width="1" height="17.4" fill="#f23645" opacity="0.85"/>
<rect x="616.65" y="257.4" width="2.7" height="2.2" fill="#f23645"/>
<rect x="620.85" y="253.0" width="1" height="16.0" fill="#f23645" opacity="0.85"/>
<rect x="620.00" y="259.0" width="2.7" height="5.0" fill="#f23645"/>
<rect x="624.20" y="262.5" width="1" height="2.5" fill="#f23645" opacity="0.85"/>
<rect x="623.35" y="263.2" width="2.7" height="1.0" fill="#f23645"/>
<rect x="627.55" y="259.0" width="1" height="6.7" fill="#089981" opacity="0.85"/>
<rect x="626.70" y="260.0" width="2.7" height="4.0" fill="#089981"/>
<rect x="630.90" y="250.0" width="1" height="16.6" fill="#089981" opacity="0.85"/>
<rect x="630.05" y="258.0" width="2.7" height="2.0" fill="#089981"/>
<rect x="634.25" y="221.6" width="1" height="38.4" fill="#089981" opacity="0.85"/>
<rect x="633.40" y="229.0" width="2.7" height="30.0" fill="#089981"/>
<rect x="637.60" y="212.5" width="1" height="25.0" fill="#089981" opacity="0.85"/>
<rect x="636.75" y="219.0" width="2.7" height="10.0" fill="#089981"/>
<rect x="640.95" y="217.5" width="1" height="13.3" fill="#f23645" opacity="0.85"/>
<rect x="640.10" y="219.0" width="2.7" height="9.0" fill="#f23645"/>
<rect x="644.30" y="225.8" width="1" height="10.8" fill="#f23645" opacity="0.85"/>
<rect x="643.45" y="226.6" width="2.7" height="1.0" fill="#f23645"/>
<rect x="647.65" y="227.5" width="1" height="4.0" fill="#f23645" opacity="0.85"/>
<rect x="646.80" y="228.3" width="2.7" height="2.5" fill="#f23645"/>
<rect x="651.00" y="229.0" width="1" height="12.6" fill="#f23645" opacity="0.85"/>
<rect x="650.15" y="230.8" width="2.7" height="10.2" fill="#f23645"/>
<rect x="654.35" y="240.0" width="1" height="13.0" fill="#f23645" opacity="0.85"/>
<rect x="653.50" y="241.0" width="2.7" height="7.3" fill="#f23645"/>
<rect x="657.70" y="247.4" width="1" height="35.6" fill="#f23645" opacity="0.85"/>
<rect x="656.85" y="248.3" width="2.7" height="30.2" fill="#f23645"/>
<rect x="661.05" y="263.0" width="1" height="23.7" fill="#089981" opacity="0.85"/>
<rect x="660.20" y="271.0" width="2.7" height="7.5" fill="#089981"/>
<rect x="664.40" y="265.7" width="1" height="11.9" fill="#089981" opacity="0.85"/>
<rect x="663.55" y="270.0" width="2.7" height="1.7" fill="#089981"/>
<rect x="667.75" y="258.4" width="1" height="19.2" fill="#089981" opacity="0.85"/>
<rect x="666.90" y="270.0" width="2.7" height="1.0" fill="#089981"/>
<rect x="671.10" y="268.5" width="1" height="6.0" fill="#f23645" opacity="0.85"/>
<rect x="670.25" y="269.3" width="2.7" height="4.3" fill="#f23645"/>
<rect x="674.45" y="272.0" width="1" height="23.0" fill="#f23645" opacity="0.85"/>
<rect x="673.60" y="273.0" width="2.7" height="18.3" fill="#f23645"/>
<rect x="677.80" y="275.7" width="1" height="16.3" fill="#089981" opacity="0.85"/>
<rect x="676.95" y="278.5" width="2.7" height="12.8" fill="#089981"/>
<rect x="681.15" y="271.0" width="1" height="15.7" fill="#089981" opacity="0.85"/>
<rect x="680.30" y="272.0" width="2.7" height="6.5" fill="#089981"/>
<rect x="684.50" y="263.9" width="1" height="10.1" fill="#089981" opacity="0.85"/>
<rect x="683.65" y="271.7" width="2.7" height="1.3" fill="#089981"/>
<rect x="687.85" y="271.0" width="1" height="45.0" fill="#f23645" opacity="0.85"/>
<rect x="687.00" y="272.0" width="2.7" height="34.9" fill="#f23645"/>
<rect x="691.20" y="306.0" width="1" height="27.5" fill="#f23645" opacity="0.85"/>
<rect x="690.35" y="306.5" width="2.7" height="11.3" fill="#f23645"/>
<line x1="420.5" y1="151.5" x2="722.2" y2="277.8" stroke="#ffffff" stroke-width="2" stroke-linecap="round"/>
<line x1="430.3" y1="315.3" x2="725.8" y2="292.7" stroke="#ffffff" stroke-width="2" stroke-linecap="round"/>
<line x1="6.45" y1="342" x2="970" y2="342" stroke="#c8313d" stroke-width="2.1" stroke-dasharray="6.4 7.46"/>
<polyline points="698.3,330.8 742.3,393.4 752.7,371.5" fill="none" stroke="#f23645" stroke-width="1.45" stroke-linejoin="round"/>
<polyline points="744.0,374.8 752.7,371.5 756.3,380.4" fill="none" stroke="#f23645" stroke-width="1.45" stroke-linecap="round" stroke-linejoin="round"/>
<rect x="7" y="467.3" width="1010" height="1.8" fill="#767676"/>
<clipPath id="cp"><rect x="7" y="469" width="965" height="94"/></clipPath>
<polyline clip-path="url(#cp)" points="4.95,486.01 8.30,480.29 11.65,478.96 15.00,479.30 18.35,477.76 21.70,477.09 25.05,482.37 28.40,481.31 31.75,480.68 35.10,484.09 38.45,484.39 41.80,485.98 45.15,485.72 48.50,481.59 51.85,485.40 55.20,486.62 58.55,489.04 61.90,488.24 65.25,484.92 68.60,489.90 71.95,490.27 75.30,490.27 78.65,498.37 82.00,506.08 85.35,508.32 88.70,501.19 92.05,498.76 95.40,501.67 98.75,498.48 102.10,491.32 105.45,494.17 108.80,494.76 112.15,488.01 115.50,489.86 118.85,486.70 122.20,481.69 125.55,494.64 128.90,496.84 132.25,496.06 135.60,496.31 138.95,499.90 142.30,509.32 145.65,504.15 149.00,508.98 152.35,496.65 155.70,500.13 159.05,504.33 162.40,511.39 165.75,505.86 169.10,507.36 172.45,503.57 175.80,512.34 179.15,511.01 182.50,512.19 185.85,508.29 189.20,502.47 192.55,501.27 195.90,503.62 199.25,504.06 202.60,505.26 205.95,501.80 209.30,499.09 212.65,500.79 216.00,493.44 219.35,490.43 222.70,489.22 226.05,489.55 229.40,492.07 232.75,491.42 236.10,487.98 239.45,489.29 242.80,487.69 246.15,493.36 249.50,492.21 252.85,494.75 256.20,504.00 259.55,506.59 262.90,500.62 266.25,514.45 269.60,510.84 272.95,511.46 276.30,500.79 279.65,494.82 283.00,495.78 286.35,486.51 289.70,483.79 293.05,481.73 296.40,481.23 299.75,480.34 303.10,479.05 306.45,487.85 309.80,484.73 313.15,489.07 316.50,506.98 319.85,511.12 323.20,500.94 326.55,500.56 329.90,504.53 333.25,508.39 336.60,513.38 339.95,516.33 343.30,513.66 346.65,509.18 350.00,504.32 353.35,508.85 356.70,510.15 360.05,503.54 363.40,501.38 366.75,499.80 370.10,494.07 373.45,495.19 376.80,497.65 380.15,504.01 383.50,507.59 386.85,503.79 390.20,502.65 393.55,501.48 396.90,510.40 400.25,521.03 403.60,512.07 406.95,517.14 410.30,510.64 413.65,512.45 417.00,505.69 420.35,502.92 423.70,508.56 427.05,511.31 430.40,514.96 433.75,524.44 437.10,520.41 440.45,522.97 443.80,526.92 447.15,523.07 450.50,526.03 453.85,535.27 457.20,537.93 460.55,538.68 463.90,526.53 467.25,520.29 470.60,522.15 473.95,510.64 477.30,508.13 480.65,509.02 484.00,509.65 487.35,510.32 490.70,519.85 494.05,503.39 497.40,498.64 500.75,501.44 504.10,506.90 507.45,507.36 510.80,503.73 514.15,503.14 517.50,498.15 520.85,499.75 524.20,498.53 527.55,503.92 530.90,504.19 534.25,509.07 537.60,513.20 540.95,508.07 544.30,511.96 547.65,513.97 551.00,504.16 554.35,503.32 557.70,502.32 561.05,502.82 564.40,506.31 567.75,505.38 571.10,506.86 574.45,505.82 577.80,503.79 581.15,503.29 584.50,506.78 587.85,500.27 591.20,503.92 594.55,498.52 597.90,494.30 601.25,492.30 604.60,489.34 607.95,484.37 611.30,485.01 614.65,495.81 618.00,494.62 621.35,496.79 624.70,496.79 628.05,494.79 631.40,493.80 634.75,483.49 638.10,481.12 641.45,485.50 644.80,485.36 648.15,487.09 651.50,492.42 654.85,496.14 658.20,509.76 661.55,505.48 664.90,504.93 668.25,504.93 671.60,506.68 674.95,514.94 678.30,506.32 681.65,502.70 685.00,502.53 688.35,517.38 691.70,521.39" fill="none" stroke="#e8d44d" stroke-width="1"/>
<text x="6.3" y="12.6" font-size="8.6" fill="#d4d4d4" text-anchor="start" font-weight="normal" textLength="246.2" lengthAdjust="spacingAndGlyphs" >AhmadPro created with TradingView.com, Jan 30, 2026 19:47 UTC+4</text>
<text x="11.6" y="29.7" font-size="8.6" fill="#c4c4c4" text-anchor="start" font-weight="normal" textLength="121.2" lengthAdjust="spacingAndGlyphs" >Bitcoin / U.S. Dollar · 1D · Bitstamp</text>
<text x="137.7" y="29.7" font-size="8.6" fill="#c4c4c4" text-anchor="start" font-weight="normal" textLength="5.3" lengthAdjust="spacingAndGlyphs" >O</text>
<text x="142.7" y="29.7" font-size="8.6" fill="#e8404c" text-anchor="start" font-weight="normal" textLength="25.9" lengthAdjust="spacingAndGlyphs" >84,520</text>
<text x="173.5" y="29.7" font-size="8.6" fill="#c4c4c4" text-anchor="start" font-weight="normal" textLength="4.8" lengthAdjust="spacingAndGlyphs" >H</text>
<text x="178.8" y="29.7" font-size="8.6" fill="#e8404c" text-anchor="start" font-weight="normal" textLength="25.4" lengthAdjust="spacingAndGlyphs" >84,599</text>
<text x="209.6" y="29.7" font-size="8.6" fill="#c4c4c4" text-anchor="start" font-weight="normal" textLength="3.6" lengthAdjust="spacingAndGlyphs" >L</text>
<text x="213.1" y="29.7" font-size="8.6" fill="#e8404c" text-anchor="start" font-weight="normal" textLength="24" lengthAdjust="spacingAndGlyphs" >81,040</text>
<text x="242.3" y="29.7" font-size="8.6" fill="#c4c4c4" text-anchor="start" font-weight="normal" textLength="4.8" lengthAdjust="spacingAndGlyphs" >C</text>
<text x="247.3" y="29.7" font-size="8.6" fill="#e8404c" text-anchor="start" font-weight="normal" textLength="24.2" lengthAdjust="spacingAndGlyphs" >83,041</text>
<text x="276" y="29.7" font-size="8.6" fill="#e8404c" text-anchor="start" font-weight="normal" textLength="58" lengthAdjust="spacingAndGlyphs" >−1,489 (−1.76%)</text>
<text x="978.7" y="63.0" font-size="8.2" fill="#bdbdbd" text-anchor="start" font-weight="normal" textLength="29.7" lengthAdjust="spacingAndGlyphs" >124,000</text>
<text x="978.7" y="89.5" font-size="8.2" fill="#bdbdbd" text-anchor="start" font-weight="normal" textLength="29.7" lengthAdjust="spacingAndGlyphs" >119,000</text>
<text x="978.7" y="117.1" font-size="8.2" fill="#bdbdbd" text-anchor="start" font-weight="normal" textLength="29.7" lengthAdjust="spacingAndGlyphs" >114,000</text>
<text x="978.7" y="145.9" font-size="8.2" fill="#bdbdbd" text-anchor="start" font-weight="normal" textLength="29.7" lengthAdjust="spacingAndGlyphs" >109,000</text>
<text x="978.7" y="169.9" font-size="8.2" fill="#bdbdbd" text-anchor="start" font-weight="normal" textLength="29.7" lengthAdjust="spacingAndGlyphs" >105,000</text>
<text x="978.7" y="194.9" font-size="8.2" fill="#bdbdbd" text-anchor="start" font-weight="normal" textLength="29.7" lengthAdjust="spacingAndGlyphs" >101,000</text>
<text x="978.0" y="220.9" font-size="8.2" fill="#bdbdbd" text-anchor="start" font-weight="normal" textLength="26" lengthAdjust="spacingAndGlyphs" >97,000</text>
<text x="978.0" y="248.0" font-size="8.2" fill="#bdbdbd" text-anchor="start" font-weight="normal" textLength="26" lengthAdjust="spacingAndGlyphs" >93,000</text>
<text x="978.0" y="276.2" font-size="8.2" fill="#bdbdbd" text-anchor="start" font-weight="normal" textLength="26" lengthAdjust="spacingAndGlyphs" >89,000</text>
<text x="978.0" y="298.3" font-size="8.2" fill="#bdbdbd" text-anchor="start" font-weight="normal" textLength="26" lengthAdjust="spacingAndGlyphs" >86,000</text>
<text x="978.0" y="369.4" font-size="8.2" fill="#bdbdbd" text-anchor="start" font-weight="normal" textLength="26" lengthAdjust="spacingAndGlyphs" >77,000</text>
<text x="978.0" y="390.6" font-size="8.2" fill="#bdbdbd" text-anchor="start" font-weight="normal" textLength="26" lengthAdjust="spacingAndGlyphs" >74,500</text>
<text x="978.0" y="411.7" font-size="8.2" fill="#bdbdbd" text-anchor="start" font-weight="normal" textLength="26" lengthAdjust="spacingAndGlyphs" >72,100</text>
<text x="978.0" y="433.4" font-size="8.2" fill="#bdbdbd" text-anchor="start" font-weight="normal" textLength="26" lengthAdjust="spacingAndGlyphs" >69,700</text>
<text x="978.0" y="454.0" font-size="8.2" fill="#bdbdbd" text-anchor="start" font-weight="normal" textLength="26" lengthAdjust="spacingAndGlyphs" >67,500</text>
<text x="978.7" y="43.0" font-size="8.2" fill="#bdbdbd" text-anchor="start" font-weight="normal" textLength="29.7" lengthAdjust="spacingAndGlyphs" >128,000</text>
<rect x="973" y="17" width="44" height="21.3" fill="#111111"/>
<rect x="974.8" y="19.6" width="40.5" height="16.5" rx="2.5" fill="#111111" stroke="#2c2c2c" stroke-width="1"/>
<text x="980.6" y="30.6" font-size="9.0" fill="#e0e0e0" text-anchor="start" font-weight="normal" textLength="15.4" lengthAdjust="spacingAndGlyphs" >USD</text>
<rect x="973" y="313" width="41.5" height="19.2" rx="1" fill="#f23645"/>
<text x="978" y="320.6" font-size="7.9" fill="#ffffff" text-anchor="start" font-weight="normal" textLength="25.5" lengthAdjust="spacingAndGlyphs" >83,041</text>
<text x="978" y="329.0" font-size="7.9" fill="#ffffff" text-anchor="start" font-weight="normal" textLength="33" lengthAdjust="spacingAndGlyphs" >08:12:33</text>
<rect x="973" y="337" width="34.8" height="10.2" rx="1" fill="#f23645"/>
<text x="978" y="344.6" font-size="7.9" fill="#ffffff" text-anchor="start" font-weight="normal" textLength="25.5" lengthAdjust="spacingAndGlyphs" >80,004</text>
<text x="776.7" y="336.1" font-size="7.3" fill="#d0d0d0" text-anchor="start" font-weight="normal" textLength="162.3" lengthAdjust="spacingAndGlyphs" >Closing under $80,000 could lead to deeper pullback</text>
<text x="773.8" y="394.8" font-size="8.6" fill="#d6d6d6" text-anchor="start" font-weight="normal" textLength="102.1" lengthAdjust="spacingAndGlyphs" >Support At $74,000 Area</text>
<text x="569.5" y="330.2" font-size="8.4" fill="#d6d6d6" text-anchor="start" font-weight="normal" textLength="50.6" lengthAdjust="spacingAndGlyphs" >January Low</text>
<text x="11.7" y="480.7" font-size="7.9" fill="#c4c4c4" text-anchor="start" font-weight="normal" textLength="49.7" lengthAdjust="spacingAndGlyphs" >RSI (14, close)</text>
<text x="66.7" y="480.7" font-size="7.9" fill="#f0dc3a" text-anchor="start" font-weight="normal" textLength="19.3" lengthAdjust="spacingAndGlyphs" >31.63</text>
<text x="978" y="476.3" font-size="8.2" fill="#bdbdbd" text-anchor="start" font-weight="normal" textLength="21" lengthAdjust="spacingAndGlyphs" >80.00</text>
<text x="978" y="512.6" font-size="8.2" fill="#bdbdbd" text-anchor="start" font-weight="normal" textLength="21" lengthAdjust="spacingAndGlyphs" >40.00</text>
<text x="978" y="537.0" font-size="8.2" fill="#bdbdbd" text-anchor="start" font-weight="normal" textLength="21" lengthAdjust="spacingAndGlyphs" >25.00</text>
<rect x="955" y="516.4" width="48" height="11.2" rx="1.5" fill="#f5e23b"/>
<rect x="972" y="516.4" width="0.8" height="11.2" fill="#111111"/>
<text x="958.2" y="525.2" font-size="7.8" fill="#1c1c1c" text-anchor="start" font-weight="normal" textLength="10.8" lengthAdjust="spacingAndGlyphs" >RSI</text>
<text x="978.4" y="525.2" font-size="8.2" fill="#1c1c1c" text-anchor="start" font-weight="normal" textLength="20.5" lengthAdjust="spacingAndGlyphs" >31.63</text>
<text x="82.5" y="557.8" font-size="8.0" fill="#bdbdbd" text-anchor="middle" font-weight="normal" textLength="13.5" lengthAdjust="spacingAndGlyphs" >Aug</text>
<text x="186.2" y="557.8" font-size="8.0" fill="#bdbdbd" text-anchor="middle" font-weight="normal" textLength="13.4" lengthAdjust="spacingAndGlyphs" >Sep</text>
<text x="287.1" y="557.8" font-size="8.0" fill="#bdbdbd" text-anchor="middle" font-weight="normal" textLength="12.6" lengthAdjust="spacingAndGlyphs" >Oct</text>
<text x="390.6" y="557.8" font-size="8.0" fill="#bdbdbd" text-anchor="middle" font-weight="normal" textLength="13.75" lengthAdjust="spacingAndGlyphs" >Nov</text>
<text x="491.2" y="557.8" font-size="8.0" fill="#bdbdbd" text-anchor="middle" font-weight="normal" textLength="14" lengthAdjust="spacingAndGlyphs" >Dec</text>
<text x="698.8" y="557.8" font-size="8.0" fill="#bdbdbd" text-anchor="middle" font-weight="normal" textLength="12.9" lengthAdjust="spacingAndGlyphs" >Feb</text>
<text x="792.6" y="557.8" font-size="8.0" fill="#bdbdbd" text-anchor="middle" font-weight="normal" textLength="13.7" lengthAdjust="spacingAndGlyphs" >Mar</text>
<text x="896.8" y="557.8" font-size="8.0" fill="#bdbdbd" text-anchor="middle" font-weight="normal" textLength="12.9" lengthAdjust="spacingAndGlyphs" >Apr</text>
<text x="595" y="557.8" font-size="8.0" fill="#d8d8d8" text-anchor="middle" font-weight="bold" textLength="20.3" lengthAdjust="spacingAndGlyphs" >2026</text>
<g fill="#e2e2e2"><path d="M7.3,576.9 H14.9 V586.7 H11.0 V580.8 H7.3 Z"/><circle cx="18.07" cy="579.0" r="1.7"/><path d="M21.6,576.9 H26.3 L23.2,586.7 H18.4 Z"/></g>
<text x="31" y="586.9" font-size="13.9" fill="#e2e2e2" text-anchor="start" font-weight="bold" textLength="75.6" lengthAdjust="spacingAndGlyphs" >TradingView</text>
</svg>
</body></html>
